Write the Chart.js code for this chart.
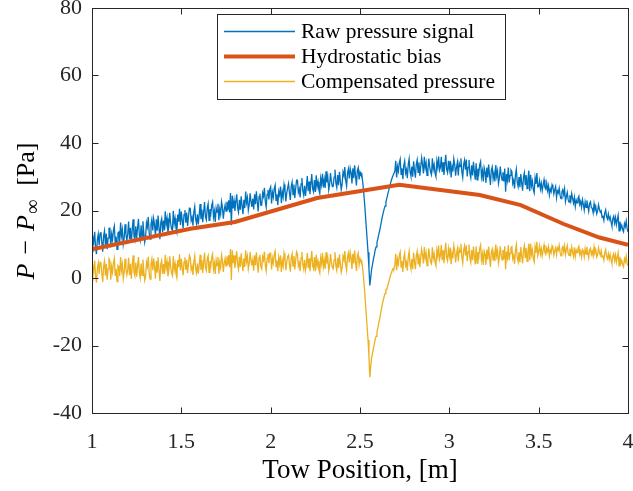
<!DOCTYPE html>
<html>
<head>
<meta charset="utf-8">
<script src="https://cdn.jsdelivr.net/npm/chart.js@4.4.1/dist/chart.umd.min.js"></script>
<style>
  html, body { margin: 0; padding: 0; background: #fff; }
  #wrap { width: 633px; height: 491px; }
</style>
</head>
<body>
<div id="wrap"><canvas id="c"></canvas></div>
<script>
// ── DATA ───────────────────────────────────────────────────────────────────
// samples every 0.005 m from 1.000 to 4.000 (one row = 0.05 m)
const towStart = 1.0, towStep = 0.005;

const rawSignal = [
  7.8, 12.0, 10.7, 13.7, 9.0, 7.1, 11.4, 13.0, 9.7, 13.2,
  13.6, 10.4, 7.8, 12.5, 14.0, 9.7, 13.2, 8.5, 11.8, 14.7,
  14.8, 9.1, 13.0, 11.3, 14.2, 15.4, 10.2, 12.3, 8.5, 13.3,
  13.6, 10.7, 16.4, 12.5, 14.3, 10.0, 11.8, 15.9, 12.9, 11.1,
  13.1, 16.7, 11.5, 14.9, 10.4, 14.2, 17.4, 12.4, 11.3, 15.3,
  11.7, 14.9, 17.5, 12.8, 11.3, 15.6, 12.1, 16.8, 13.5, 10.6,
  12.2, 16.4, 15.1, 18.1, 13.4, 11.5, 15.8, 17.4, 14.1, 17.6,
  15.8, 12.2, 17.4, 14.0, 18.5, 14.7, 11.5, 16.5, 17.6, 13.6,
  17.0, 14.1, 19.8, 15.9, 17.7, 13.4, 15.2, 19.3, 16.3, 14.5,
  14.2, 19.9, 16.0, 17.7, 14.8, 13.6, 18.8, 16.7, 20.5, 15.7,
  19.7, 17.0, 14.8, 18.8, 20.1, 16.4, 19.4, 15.4, 18.2, 20.7,
  20.6, 17.0, 18.0, 15.5, 19.5, 21.2, 17.4, 16.1, 18.9, 15.9,
  18.7, 21.9, 17.4, 20.3, 16.5, 19.7, 22.5, 18.1, 17.2, 20.7,
  22.0, 17.1, 20.4, 19.0, 21.5, 22.5, 18.0, 19.8, 16.6, 20.7,
  19.5, 22.0, 17.1, 20.4, 18.9, 22.6, 21.0, 17.6, 20.1, 21.6,
  19.8, 22.6, 20.1, 23.0, 19.4, 25.2, 15.6, 24.4, 20.6, 22.9,
  19.9, 22.6, 24.8, 20.8, 19.5, 23.2, 20.2, 24.2, 21.4, 18.9,
  23.2, 20.7, 25.6, 22.3, 23.8, 20.1, 21.7, 25.1, 22.6, 21.1,
  23.5, 20.3, 24.8, 21.9, 25.7, 22.5, 19.7, 24.1, 25.0, 21.5,
  21.6, 25.2, 24.2, 26.7, 22.7, 21.0, 24.8, 26.1, 23.3, 26.3,
  27.0, 22.1, 25.4, 24.0, 26.5, 27.5, 23.0, 24.8, 21.6, 25.7,
  24.6, 27.1, 22.2, 25.5, 24.0, 27.7, 26.1, 22.7, 25.2, 26.7,
  28.0, 25.3, 23.1, 27.1, 28.4, 24.7, 27.7, 23.7, 26.5, 29.0,
  29.0, 25.4, 26.4, 23.9, 27.9, 29.6, 25.8, 24.5, 27.3, 24.3,
  27.0, 30.2, 25.7, 28.6, 24.8, 28.0, 30.8, 26.4, 25.5, 29.0,
  25.5, 30.4, 27.1, 28.5, 26.0, 25.0, 29.5, 27.7, 30.9, 26.8,
  29.2, 26.7, 31.6, 28.3, 29.8, 26.1, 27.7, 31.1, 28.6, 27.1,
  27.2, 29.9, 32.1, 28.1, 26.8, 30.5, 27.5, 31.5, 28.7, 26.2,
  27.8, 31.4, 30.4, 32.9, 28.9, 27.2, 31.0, 32.3, 29.5, 32.5,
  31.2, 28.0, 32.5, 29.6, 33.4, 30.2, 27.4, 31.8, 32.7, 29.2,
  31.4, 30.6, 30.8, 28.5, 25.8, 22.6, 19.0, 15.2, 11.4, 7.6,
  3.0, -2.2, 0.2, 2.6, 4.0, 5.6, 6.8, 8.3, 9.2, 10.6,
  11.6, 12.9, 14.0, 15.4, 16.8, 18.2, 19.3, 20.4, 21.3, 22.5,
  23.6, 24.8, 25.8, 26.9, 27.9, 28.9, 29.7, 30.4, 30.4, 31.6,
  34.7, 29.8, 33.1, 31.7, 34.2, 35.2, 30.7, 32.5, 29.3, 33.4,
  34.7, 31.1, 32.1, 29.6, 33.6, 35.3, 31.5, 30.2, 33.0, 30.0,
  34.6, 31.9, 29.7, 33.7, 35.0, 31.3, 34.3, 30.3, 33.1, 35.6,
  33.5, 31.0, 35.9, 32.6, 34.1, 30.4, 32.0, 35.4, 32.9, 31.4,
  30.6, 35.5, 32.2, 33.6, 31.1, 30.1, 34.6, 32.8, 36.0, 31.9,
  32.7, 35.9, 31.4, 34.3, 30.5, 33.7, 36.5, 32.1, 31.2, 34.7,
  32.2, 34.7, 29.8, 33.1, 31.6, 35.3, 33.7, 30.3, 32.8, 34.3,
  30.4, 34.0, 33.0, 35.5, 31.5, 29.8, 33.6, 34.9, 32.1, 35.1,
  30.1, 32.8, 35.0, 31.0, 29.7, 33.4, 30.4, 34.4, 31.6, 29.1,
  34.0, 29.1, 32.4, 31.0, 33.5, 34.5, 30.0, 31.8, 28.6, 32.7,
  31.4, 28.2, 32.7, 29.8, 33.6, 30.4, 27.6, 32.0, 32.9, 29.4,
  31.1, 28.6, 33.5, 30.2, 31.7, 28.0, 29.6, 33.0, 30.5, 29.0,
  31.3, 28.6, 32.4, 25.6, 30.8, 29.0, 32.7, 28.3, 30.4, 32.0,
  31.6, 28.0, 29.0, 26.5, 30.5, 32.2, 28.4, 27.1, 29.9, 26.9,
  30.8, 28.1, 25.9, 29.9, 31.2, 27.5, 30.5, 26.5, 29.3, 31.8,
  25.7, 30.6, 27.3, 28.7, 26.2, 25.2, 29.7, 27.9, 31.1, 27.0,
  27.1, 28.8, 26.4, 28.0, 25.9, 27.6, 29.1, 26.8, 26.3, 28.1,
  25.9, 27.3, 24.6, 26.4, 25.6, 27.6, 26.8, 24.9, 26.2, 27.1,
  23.8, 25.8, 25.2, 26.6, 24.4, 23.5, 25.5, 26.2, 24.7, 26.4,
  22.7, 24.2, 25.4, 23.2, 22.5, 24.5, 22.9, 25.0, 23.5, 22.2,
  23.9, 21.2, 23.1, 22.3, 23.6, 24.2, 21.8, 22.7, 21.0, 23.2,
  21.8, 20.1, 22.5, 20.9, 23.0, 21.3, 19.8, 22.1, 22.6, 20.8,
  20.7, 19.3, 22.0, 20.2, 21.0, 19.0, 19.8, 21.7, 20.4, 19.5,
  19.9, 17.9, 18.5, 17.1, 19.3, 20.2, 18.2, 17.5, 19.0, 17.3,
  18.1, 16.6, 15.4, 17.6, 18.3, 16.3, 17.9, 15.8, 17.3, 18.6,
  14.0, 16.7, 14.8, 15.6, 14.3, 13.7, 16.1, 15.2, 16.9, 14.7,
  13.6
];

const compensated = [
  -0.7, 3.5, 2.2, 5.2, 0.5, -1.4, 2.9, 4.5, 1.2, 4.7,
  4.6, 1.4, -1.2, 3.5, 5.0, 0.7, 4.2, -0.5, 2.8, 5.7,
  5.2, -0.5, 3.4, 1.7, 4.6, 5.8, 0.6, 2.7, -1.1, 3.7,
  3.4, 0.5, 6.2, 2.3, 4.1, -0.2, 1.6, 5.7, 2.7, 0.9,
  2.4, 6.0, 0.8, 4.2, -0.3, 3.5, 6.7, 1.7, 0.6, 4.6,
  0.4, 3.6, 6.2, 1.5, 0.0, 4.3, 0.8, 5.5, 2.2, -0.7,
  0.4, 4.6, 3.3, 6.3, 1.6, -0.3, 4.0, 5.6, 2.3, 5.8,
  3.4, -0.2, 5.0, 1.6, 6.1, 2.3, -0.9, 4.1, 5.2, 1.2,
  4.1, 1.2, 6.9, 3.0, 4.8, 0.5, 2.3, 6.4, 3.4, 1.6,
  0.7, 6.4, 2.5, 4.2, 1.3, 0.1, 5.3, 3.2, 7.0, 2.2,
  5.7, 3.0, 0.8, 4.8, 6.1, 2.4, 5.4, 1.4, 4.2, 6.7,
  6.0, 2.4, 3.4, 0.9, 4.9, 6.6, 2.8, 1.5, 4.3, 1.3,
  3.7, 6.9, 2.4, 5.3, 1.5, 4.7, 7.5, 3.1, 2.2, 5.7,
  6.6, 1.7, 5.0, 3.6, 6.1, 7.1, 2.6, 4.4, 1.2, 5.3,
  3.7, 6.2, 1.3, 4.6, 3.1, 6.8, 5.2, 1.8, 4.3, 5.8,
  3.6, 6.4, 3.9, 6.8, 3.2, 8.6, -0.6, 8.2, 4.4, 6.7,
  3.0, 5.7, 7.9, 3.9, 2.6, 6.3, 3.3, 7.3, 4.5, 2.0,
  5.8, 3.3, 8.2, 4.9, 6.4, 2.7, 4.3, 7.7, 5.2, 3.7,
  5.4, 2.2, 6.7, 3.8, 7.6, 4.4, 1.6, 6.0, 6.9, 3.4,
  2.7, 6.3, 5.3, 7.8, 3.8, 2.1, 5.9, 7.2, 4.4, 7.4,
  7.4, 2.5, 5.8, 4.4, 6.9, 7.9, 3.4, 5.2, 2.0, 6.1,
  4.2, 6.7, 1.8, 5.1, 3.6, 7.3, 5.7, 2.3, 4.8, 6.3,
  6.8, 4.1, 1.9, 5.9, 7.2, 3.5, 6.5, 2.5, 5.3, 7.8,
  7.1, 3.5, 4.5, 2.0, 6.0, 7.7, 3.9, 2.6, 5.4, 2.4,
  4.2, 7.4, 2.9, 5.8, 2.0, 5.2, 8.0, 3.6, 2.7, 6.2,
  2.0, 6.9, 3.6, 5.0, 2.5, 1.5, 6.0, 4.2, 7.4, 3.3,
  5.2, 2.7, 7.6, 4.3, 5.8, 2.1, 3.7, 7.1, 4.6, 3.1,
  2.7, 5.4, 7.6, 3.6, 2.3, 6.0, 3.0, 7.0, 4.2, 1.7,
  2.9, 6.5, 5.5, 8.0, 4.0, 2.3, 6.1, 7.4, 4.6, 7.6,
  5.9, 2.7, 7.2, 4.3, 8.1, 4.9, 2.1, 6.5, 7.4, 3.9,
  5.7, 4.9, 5.0, 2.7, 0.0, -3.3, -6.9, -10.8, -14.6, -18.4,
  -23.1, -29.4, -26.1, -23.7, -22.4, -20.8, -19.7, -18.2, -17.3, -16.0,
  -14.8, -13.4, -12.2, -10.6, -9.2, -7.8, -6.6, -5.5, -4.6, -3.5,
  -3.4, -2.3, -1.4, -0.3, 0.6, 1.5, 2.2, 2.8, 2.7, 3.8,
  7.2, 2.3, 5.6, 4.2, 6.7, 7.7, 3.2, 5.0, 1.8, 5.9,
  7.3, 3.7, 4.7, 2.2, 6.2, 7.9, 4.1, 2.8, 5.6, 2.6,
  7.5, 4.8, 2.6, 6.6, 7.9, 4.2, 7.2, 3.2, 6.0, 8.5,
  6.8, 4.3, 9.2, 5.9, 7.4, 3.7, 5.3, 8.7, 6.2, 4.7,
  4.2, 9.1, 5.8, 7.2, 4.7, 3.7, 8.2, 6.4, 9.6, 5.5,
  6.6, 9.8, 5.3, 8.2, 4.4, 7.6, 10.4, 6.0, 5.1, 8.6,
  6.5, 9.0, 4.1, 7.4, 5.9, 9.6, 8.0, 4.6, 7.1, 8.6,
  5.0, 8.6, 7.6, 10.1, 6.1, 4.4, 8.2, 9.5, 6.7, 9.7,
  5.0, 7.7, 9.9, 5.9, 4.6, 8.3, 5.3, 9.3, 6.5, 4.0,
  9.3, 4.4, 7.7, 6.3, 8.8, 9.8, 5.3, 7.1, 3.9, 8.0,
  7.1, 3.9, 8.4, 5.5, 9.3, 6.1, 3.3, 7.7, 8.6, 5.1,
  7.5, 5.0, 9.9, 6.6, 8.1, 4.4, 6.0, 9.4, 6.9, 5.4,
  8.3, 5.6, 9.4, 2.6, 7.8, 6.0, 9.7, 5.3, 7.4, 9.0,
  9.3, 5.7, 6.7, 4.2, 8.2, 9.9, 6.1, 4.8, 7.6, 4.6,
  9.2, 6.5, 4.3, 8.3, 9.6, 5.9, 8.9, 4.9, 7.7, 10.2,
  5.3, 10.2, 6.9, 8.3, 5.8, 4.8, 9.3, 7.5, 10.7, 6.6,
  7.8, 9.5, 7.1, 8.7, 6.6, 8.3, 9.8, 7.5, 7.0, 8.8,
  7.8, 9.2, 6.5, 8.3, 7.5, 9.5, 8.7, 6.8, 8.1, 9.0,
  6.9, 8.9, 8.3, 9.7, 7.5, 6.6, 8.6, 9.3, 7.8, 9.5,
  6.9, 8.4, 9.6, 7.4, 6.7, 8.7, 7.1, 9.2, 7.7, 6.4,
  9.1, 6.4, 8.3, 7.5, 8.8, 9.4, 7.0, 7.9, 6.2, 8.4,
  8.0, 6.3, 8.7, 7.1, 9.2, 7.5, 6.0, 8.3, 8.8, 7.0,
  7.9, 6.5, 9.2, 7.4, 8.2, 6.2, 7.0, 8.9, 7.6, 6.7,
  8.1, 6.1, 6.7, 5.3, 7.5, 8.4, 6.4, 5.7, 7.2, 5.5,
  7.0, 5.5, 4.3, 6.5, 7.2, 5.2, 6.8, 4.7, 6.2, 7.5,
  3.6, 6.3, 4.4, 5.2, 3.9, 3.3, 5.7, 4.8, 6.5, 4.3,
  3.6
];

// hydrostatic bias: piecewise linear
const biasX = [1.0, 1.55, 1.8, 2.26, 2.72, 3.17, 3.40, 3.64, 3.84, 4.0];
const biasY = [8.5, 14.6, 16.6, 23.7, 27.6, 24.6, 21.6, 16.0, 12.0, 9.8];

const seriesLabels = ["Raw pressure signal", "Hydrostatic bias", "Compensated pressure"];
const xTickLabels = ["1", "1.5", "2", "2.5", "3", "3.5", "4"];
const yTickLabels = ["-40", "-20", "0", "20", "40", "60", "80"];

// ── STYLE ──────────────────────────────────────────────────────────────────
const serif = "'Liberation Serif', 'DejaVu Serif', serif";
const axisColor = "#262626";
const cBlue = "#0072BD", cOrange = "#D95319", cYellow = "#EDB120";

const towAt = i => Math.round((towStart + i * towStep) * 1000) / 1000;
const rawPts = rawSignal.map((v, i) => ({ x: towAt(i), y: v }));
const compPts = compensated.map((v, i) => ({ x: towAt(i), y: v }));
const biasPts = biasX.map((x, i) => ({ x, y: biasY[i] }));

// frame + inward ticks on all four sides (MATLAB "box on")
const framePlugin = {
  id: "frame",
  afterDatasetsDraw(chart) {
    const { ctx, chartArea: a, scales } = chart;
    const L = Math.round(a.left) + 0.5, R = Math.round(a.right) + 0.5;
    const T = Math.round(a.top) + 0.5, B = Math.round(a.bottom) + 0.5;
    const tl = 6;
    ctx.save();
    ctx.strokeStyle = axisColor;
    ctx.lineWidth = 1;
    ctx.strokeRect(L, T, R - L, B - T);
    ctx.beginPath();
    scales.x.ticks.forEach(t => {
      const px = Math.round(scales.x.getPixelForValue(t.value)) + 0.5;
      ctx.moveTo(px, B); ctx.lineTo(px, B - tl);
      ctx.moveTo(px, T); ctx.lineTo(px, T + tl);
    });
    scales.y.ticks.forEach(t => {
      const py = Math.round(scales.y.getPixelForValue(t.value)) + 0.5;
      ctx.moveTo(L, py); ctx.lineTo(L + tl, py);
      ctx.moveTo(R, py); ctx.lineTo(R - tl, py);
    });
    ctx.stroke();
    ctx.restore();
  },
};

// legend box inside the axes, top-centre
const legendPlugin = {
  id: "boxLegend",
  afterDraw(chart) {
    const { ctx } = chart;
    const bx = 217.5, by = 14.5, bw = 288, bh = 85;
    ctx.save();
    ctx.fillStyle = "#fff";
    ctx.fillRect(bx, by, bw, bh);
    ctx.strokeStyle = axisColor;
    ctx.lineWidth = 1;
    ctx.strokeRect(bx, by, bw, bh);
    ctx.font = "21.5px " + serif;
    ctx.textBaseline = "middle";
    ctx.fillStyle = "#000";
    chart.data.datasets.forEach((ds, i) => {
      const y = 31.5 + i * 25;
      ctx.strokeStyle = ds.borderColor;
      ctx.lineWidth = ds.borderWidth;
      ctx.beginPath();
      ctx.moveTo(224, y); ctx.lineTo(295, y);
      ctx.stroke();
      ctx.fillText(ds.label, 301, y + 1);
    });
    ctx.restore();
  },
};

// y-axis title: P − P∞ [Pa] with math italics
const yTitlePlugin = {
  id: "yTitle",
  afterDraw(chart) {
    const { ctx } = chart;
    const parts = [
      { t: "P", f: "italic 26px " + serif, dy: 0, gap: 9 },
      { t: "\u2212", f: "26px " + serif, dy: 0, gap: 9 },
      { t: "P", f: "italic 26px " + serif, dy: 0, gap: 1 },
      { t: "\u221E", f: "20px " + serif, dy: 5, gap: 14 },
      { t: "[Pa]", f: "26px " + serif, dy: 0, gap: 0 },
    ];
    let total = 0;
    parts.forEach(p => { ctx.font = p.f; p.w = ctx.measureText(p.t).width; total += p.w + p.gap; });
    ctx.save();
    ctx.translate(34, 211);
    ctx.rotate(-Math.PI / 2);
    ctx.fillStyle = "#000";
    ctx.textBaseline = "alphabetic";
    let x = -total / 2;
    parts.forEach(p => {
      ctx.font = p.f;
      ctx.fillText(p.t, x, p.dy);
      x += p.w + p.gap;
    });
    ctx.restore();
  },
};

// ── CHART ──────────────────────────────────────────────────────────────────
new Chart(document.getElementById("c"), {
  type: "line",
  data: {
    datasets: [
      { label: seriesLabels[0], data: rawPts, borderColor: cBlue, borderWidth: 1.3, pointRadius: 0, tension: 0, order: 3 },
      { label: seriesLabels[1], data: biasPts, borderColor: cOrange, borderWidth: 4, pointRadius: 0, tension: 0, order: 2 },
      { label: seriesLabels[2], data: compPts, borderColor: cYellow, borderWidth: 1.3, pointRadius: 0, tension: 0, order: 1 },
    ],
  },
  options: {
    responsive: true, maintainAspectRatio: false, animation: false,
    layout: { padding: { top: 8, right: 5, left: 0, bottom: 0 } },
    plugins: { legend: { display: false }, tooltip: { enabled: false } },
    scales: {
      x: {
        type: "linear", min: 1, max: 4,
        afterFit: s => { s.height = 78; s.paddingLeft = 0; s.paddingRight = 0; },
        grid: { display: false, drawTicks: false },
        border: { display: false },
        ticks: {
          stepSize: 0.5, color: axisColor, padding: 16,
          font: { family: serif, size: 22 },
          callback: (v, i) => xTickLabels[i],
        },
        title: {
          display: true, text: "Tow Position, [m]", color: "#000",
          font: { family: serif, size: 27 }, padding: { top: 1 },
        },
      },
      y: {
        min: -40, max: 80,
        afterFit: s => { s.width = 92; s.paddingTop = 0; s.paddingBottom = 0; },
        grid: { display: false, drawTicks: false },
        border: { display: false },
        ticks: {
          stepSize: 20, color: axisColor, padding: 10,
          font: { family: serif, size: 22 },
          callback: (v, i) => yTickLabels[i],
        },
      },
    },
  },
  plugins: [framePlugin, legendPlugin, yTitlePlugin],
});
</script>
</body>
</html>
